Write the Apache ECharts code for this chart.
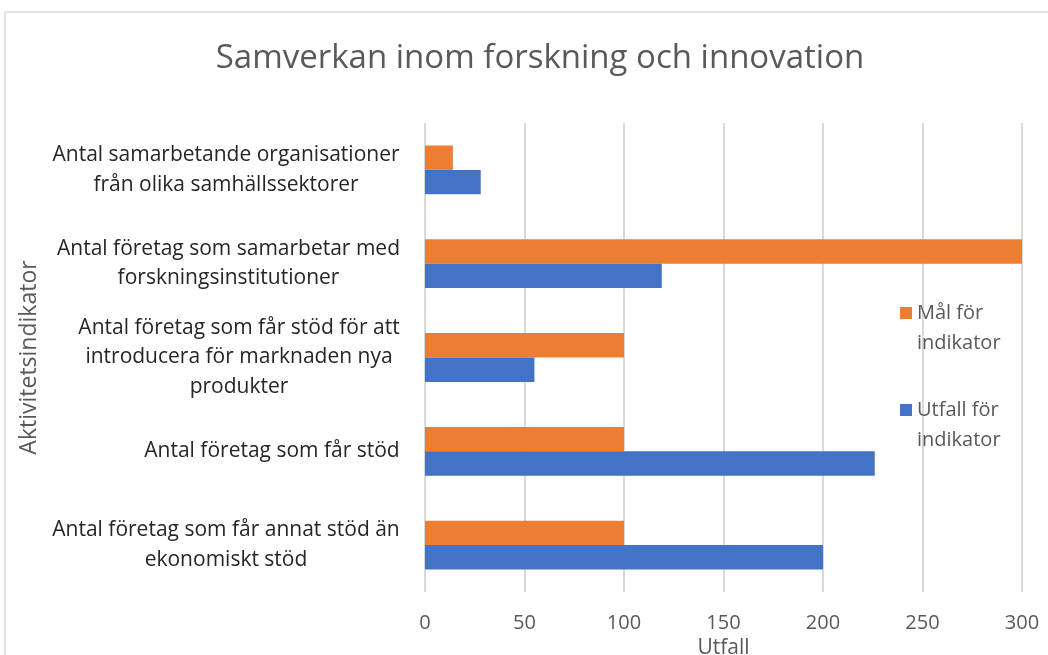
<!DOCTYPE html>
<html>
<head>
<meta charset="utf-8">
<script src="https://cdn.jsdelivr.net/npm/echarts@6/dist/echarts.min.js"></script>
<style>
  html, body { margin: 0; padding: 0; background: #fff; }
  #chart { width: 1048px; height: 655px; }
</style>
</head>
<body>
<div id="chart"></div>
<script>
var categories = [
  'Antal samarbetande organisationer\nfrån olika samhällssektorer',
  'Antal företag som samarbetar med\nforskningsinstitutioner',
  'Antal företag som får stöd för att\nintroducera för marknaden nya\nprodukter',
  'Antal företag som får stöd',
  'Antal företag som får annat stöd än\nekonomiskt stöd'
];
var malVals = [14, 300, 100, 100, 100];
var utfallVals = [28, 119, 55, 226, 200];
var xTicks = [0, 300, 50];

var myChart = echarts.init(document.getElementById('chart'));
var fontFam = '"Open Sans", "Noto Sans", sans-serif';
var catFontSize = 21;

// every label block is right aligned, its lines centred inside the block
var ctx = document.createElement('canvas').getContext('2d');
ctx.font = catFontSize + 'px ' + fontFam;
var catRich = {};
categories.forEach(function (c, i) {
  var w = 0;
  c.split('\n').forEach(function (line) {
    w = Math.max(w, ctx.measureText(line).width);
  });
  catRich['c' + i] = { width: Math.ceil(w), align: 'center', fontSize: catFontSize, lineHeight: 29.5, color: '#262626', fontFamily: fontFam };
});

var option = {
  animation: false,
  textStyle: { fontFamily: fontFam },
  graphic: [{
    type: 'rect',
    shape: { x: 5, y: 12, width: 1100, height: 700 },
    style: { fill: 'none', stroke: '#d9d9d9', lineWidth: 1.5 },
    silent: true
  }],
  title: {
    text: 'Samverkan inom forskning och innovation',
    left: 535,
    top: 37,
    textAlign: 'center',
    textStyle: { fontSize: 33, fontWeight: 'normal', color: '#595959', fontFamily: fontFam }
  },
  legend: {
    orient: 'vertical',
    left: 895,
    top: 263,
    itemGap: 7,
    itemWidth: 12,
    itemHeight: 12,
    icon: 'rect',
    data: ['Mål för indikator', 'Utfall för indikator'],
    // leading empty line so the marker sits beside the first text line
    formatter: function (name) { return '\n' + name.replace(' indikator', '\nindikator'); },
    textStyle: { fontSize: 20, color: '#595959', lineHeight: 30, fontFamily: fontFam }
  },
  grid: { left: 425, right: 26, top: 123, bottom: 63, outerBoundsMode: 'none', containLabel: false },
  xAxis: {
    type: 'value',
    min: xTicks[0],
    max: xTicks[1],
    interval: xTicks[2],
    name: 'Utfall',
    nameLocation: 'middle',
    nameGap: 33,
    nameTextStyle: { fontSize: 21, color: '#595959' },
    axisLine: { show: false },
    axisTick: { show: false },
    axisLabel: { fontSize: 20, color: '#595959', margin: 21 },
    splitLine: { lineStyle: { color: '#d9d9d9', width: 2 } }
  },
  yAxis: {
    type: 'category',
    inverse: true,
    data: categories,
    name: 'Aktivitetsindikator',
    nameLocation: 'middle',
    nameGap: 380,
    nameTextStyle: { fontSize: 23, color: '#595959' },
    axisLine: { show: false },
    axisTick: { show: false },
    axisLabel: {
      margin: 25,
      formatter: function (value, idx) {
        return value.split('\n').map(function (line) {
          return '{c' + idx + '|' + line + '}';
        }).join('\n');
      },
      rich: catRich
    }
  },
  series: [
    {
      name: 'Mål för indikator',
      type: 'bar',
      data: malVals,
      barGap: '0%',
      barCategoryGap: '48%',
      itemStyle: { color: '#ED7D31' }
    },
    {
      name: 'Utfall för indikator',
      type: 'bar',
      data: utfallVals,
      barGap: '0%',
      barCategoryGap: '48%',
      itemStyle: { color: '#4472C4' }
    }
  ]
};

myChart.setOption(option);
</script>
</body>
</html>
